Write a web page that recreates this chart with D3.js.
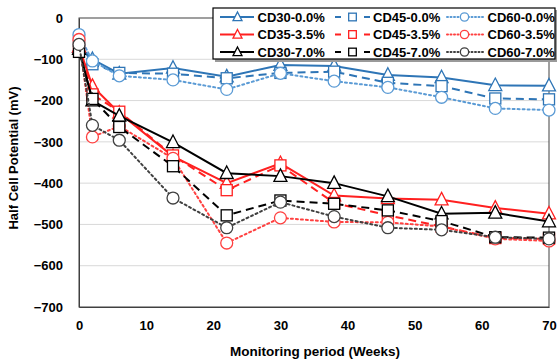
<!DOCTYPE html>
<html><head><meta charset="utf-8">
<script src="https://cdn.jsdelivr.net/npm/d3@7"></script>
<style>
html,body{margin:0;padding:0;background:#fff;}
svg{display:block;font-family:"Liberation Sans",Arial,sans-serif;font-weight:bold;}
</style></head>
<body><svg id="c" width="557" height="360"></svg>
<script>
const weeks = [0, 2, 6, 14, 22, 30, 38, 46, 54, 62, 70];
const seriesNames = ["CD30-0.0%", "CD45-0.0%", "CD60-0.0%", "CD35-3.5%", "CD45-3.5%", "CD60-3.5%", "CD30-7.0%", "CD45-7.0%", "CD60-7.0%"];
const cd30_00 = [-70, -100, -135, -121, -142, -114, -116, -138, -144, -163, -164];
const cd45_00 = [-55, -112, -133, -135, -146, -133, -130, -157, -165, -195, -197];
const cd60_00 = [-40, -104, -140, -150, -173, -134, -153, -168, -192, -219, -223];
const cd35_35 = [-70, -165, -230, -335, -400, -352, -430, -437, -440, -460, -474];
const cd45_35 = [-68, -185, -227, -333, -417, -357, -448, -478, -505, -533, -535];
const cd60_35 = [-52, -288, -262, -340, -545, -484, -494, -495, -505, -535, -540];
const cd30_70 = [-75, -200, -237, -301, -376, -383, -400, -432, -474, -472, -493];
const cd45_70 = [-82, -196, -264, -359, -478, -442, -450, -466, -492, -531, -532];
const cd60_70 = [-64, -260, -296, -436, -508, -446, -481, -508, -513, -531, -535];
const seriesValues = [cd30_00, cd45_00, cd60_00, cd35_35, cd45_35, cd60_35, cd30_70, cd45_70, cd60_70];
const xTicks = [0, 10, 20, 30, 40, 50, 60, 70];
const yTicks = [0, -100, -200, -300, -400, -500, -600, -700];
const colors = ["#2E75B6", "#2E75B6", "#5B9BD5", "#FF2020", "#FF2020", "#FF4040", "#000000", "#000000", "#404040"];
const markers = ["tri", "sq", "circ", "tri", "sq", "circ", "tri", "sq", "circ"];
const dashes = [null, "8,5", "2,3", null, "8,5", "2,3", null, "8,5", "2,3"];

const svg = d3.select("#c");
const L = 79, R = 549, T = 18, B = 307;
const x = d3.scaleLinear().domain([0, 70]).range([L, R]);
const y = d3.scaleLinear().domain([-700, 0]).range([B, T]);

// gridlines
svg.append("g").selectAll("line").data(yTicks.filter(v => v > -700 && v < 0)).join("line")
  .attr("x1", L).attr("x2", R).attr("y1", d => y(d)).attr("y2", d => y(d))
  .attr("stroke", "#d9d9d9").attr("stroke-width", 1);

// plot border
svg.append("rect").attr("x", L).attr("y", T).attr("width", R - L).attr("height", B - T)
  .attr("fill", "none").attr("stroke", "#404040").attr("stroke-width", 1);

// axes
const yAxis = d3.axisLeft(y).tickValues(yTicks).tickSize(0).tickPadding(16).tickFormat(d3.format("d"));
const gy = svg.append("g").attr("transform", `translate(${L},0)`).call(yAxis);
gy.select(".domain").attr("stroke", "#404040");
gy.selectAll("text").attr("font-size", 13).attr("font-weight", "bold").attr("fill", "#000")
  .attr("font-family", "Liberation Sans, Arial, sans-serif");

const xAxis = d3.axisBottom(x).tickValues(xTicks).tickSize(0).tickPadding(14);
const gx = svg.append("g").attr("transform", `translate(0,${B})`).call(xAxis);
gx.select(".domain").attr("stroke", "#404040");
gx.selectAll("text").attr("font-size", 13).attr("font-weight", "bold").attr("fill", "#000")
  .attr("font-family", "Liberation Sans, Arial, sans-serif");

// axis titles
svg.append("text").attr("x", 315).attr("y", 356).attr("text-anchor", "middle")
  .attr("font-size", 13.5).text("Monitoring period (Weeks)");
svg.append("text").attr("transform", "translate(18,158) rotate(-90)").attr("text-anchor", "middle")
  .attr("font-size", 13).text("Half Cell Potential (mV)");

function drawMarker(g, type, cx, cy, color, s) {
  if (type === "tri") {
    const h = s * 0.9;
    g.append("path").attr("d", `M${cx},${cy - h * 0.62}L${cx + s / 2},${cy + h * 0.45}L${cx - s / 2},${cy + h * 0.45}Z`)
      .attr("fill", "#fff").attr("stroke", color).attr("stroke-width", 1.3);
  } else if (type === "sq") {
    const a = s * 0.85;
    g.append("rect").attr("x", cx - a / 2).attr("y", cy - a / 2).attr("width", a).attr("height", a)
      .attr("fill", "#fff").attr("stroke", color).attr("stroke-width", 1.3);
  } else {
    g.append("circle").attr("cx", cx).attr("cy", cy).attr("r", s * 0.46)
      .attr("fill", "#fff").attr("stroke", color).attr("stroke-width", 1.3);
  }
}

const line = d3.line().x((d, i) => x(weeks[i])).y(d => y(d));
seriesValues.forEach((vals, k) => {
  const g = svg.append("g");
  g.append("path").datum(vals).attr("d", line).attr("fill", "none")
    .attr("stroke", colors[k]).attr("stroke-width", 2)
    .attr("stroke-dasharray", dashes[k]).attr("stroke-linecap", dashes[k] === "2,3" ? "round" : "butt");
  vals.forEach((v, i) => drawMarker(g, markers[k], x(weeks[i]), y(v), colors[k], 13));
});

// legend
const lg = svg.append("g");
lg.append("rect").attr("x", 215).attr("y", 10).attr("width", 342).attr("height", 52).attr("fill", "#9a9a9a");
lg.append("rect").attr("x", 213).attr("y", 8).attr("width", 342).attr("height", 51)
  .attr("fill", "#fff").attr("stroke", "#000").attr("stroke-width", 1.2);
const colX = [220, 335, 447];
const rowY = [17, 34.5, 52];
seriesNames.forEach((name, k) => {
  const col = k % 3, row = Math.floor(k / 3);
  const x0 = colX[col], yy = rowY[row];
  const g = lg.append("g");
  if (col === 0) {
    g.append("line").attr("x1", x0).attr("x2", x0 + 34).attr("y1", yy).attr("y2", yy)
      .attr("stroke", colors[k]).attr("stroke-width", 2);
  } else if (col === 1) {
    g.append("line").attr("x1", x0).attr("x2", x0 + 35).attr("y1", yy).attr("y2", yy)
      .attr("stroke", colors[k]).attr("stroke-width", 2).attr("stroke-dasharray", "6,23,6");
  } else {
    g.append("line").attr("x1", x0).attr("x2", x0 + 36).attr("y1", yy).attr("y2", yy)
      .attr("stroke", colors[k]).attr("stroke-width", 2).attr("stroke-dasharray", "1,2.5").attr("stroke-linecap", "round");
  }
  drawMarker(g, markers[k], x0 + 17.5, yy, colors[k], 9);
  g.append("text").attr("x", x0 + (col === 0 ? 37.5 : col === 1 ? 38 : 40.5)).attr("y", yy + 4.5)
    .attr("font-size", 13).text(name);
});
</script></body></html>
